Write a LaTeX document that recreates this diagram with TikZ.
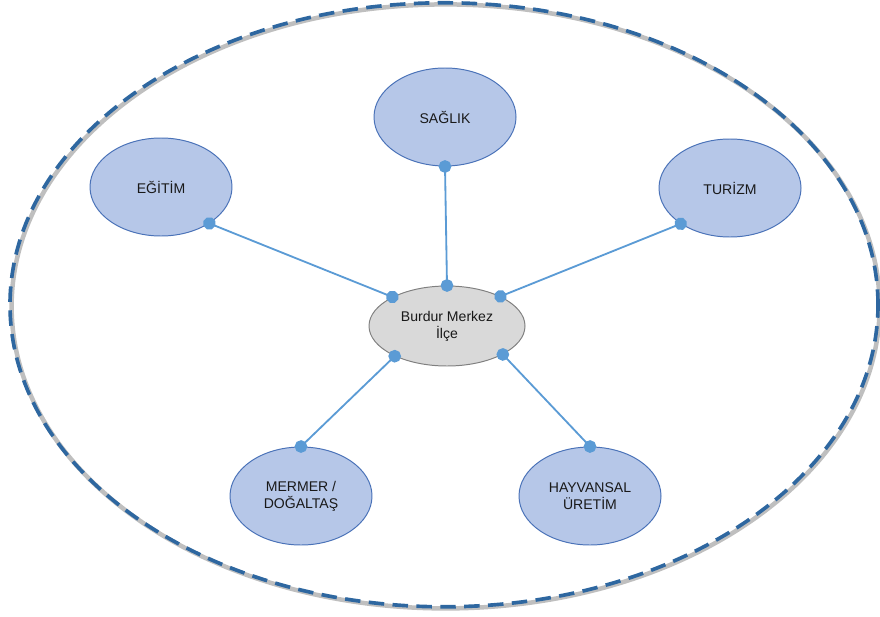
\documentclass[tikz,border=0pt]{standalone}
\usepackage{fontspec}
\setmainfont{Liberation Sans}
\usepackage{xcolor}
\usetikzlibrary{arrows.meta,shapes.geometric}
\definecolor{konudolgu}{HTML}{B6C7E8}
\definecolor{konukenar}{HTML}{4A72B8}
\definecolor{baglanti}{HTML}{5B9BD5}
\definecolor{cerceve}{HTML}{2E67A0}

\begin{document}
\begin{tikzpicture}[
  konu/.style={ellipse,draw=konukenar,fill=konudolgu,line width=0.7pt,minimum width=3.55cm,minimum height=2.45cm,inner sep=0pt,align=center,text=black!90},
  merkez/.style={konu,draw=gray,fill=black!15,minimum width=3.9cm,minimum height=2.0cm},
  bag/.style={baglanti,line width=1.3pt,{Circle[length=9pt]}-{Circle[length=9pt]},shorten <=-4.5pt,shorten >=-4.5pt}]
\useasboundingbox (0,0) rectangle (22,15.4);
\draw[black!25,line width=3.2pt](11.14,7.74) ellipse [x radius=10.85, y radius=7.55];
\draw[cerceve,line width=2.6pt,dash pattern=on 11pt off 6pt](11.1,7.78) ellipse [x radius=10.85, y radius=7.55];

\node[merkez] (ilce) at (11.175,7.25) {Burdur Merkez\\İlçe};
\node[konu] (saglik) at (11.125,12.475) {SAĞLIK};
\node[konu] (egitim) at (4.025,10.725) {EĞİTİM};
\node[konu] (turizm) at (18.25,10.7) {TURİZM};
\node[konu] (mermer) at (7.525,3.0) {MERMER /\\DOĞALTAŞ};
\node[konu] (hayvan) at (14.75,3.0) {HAYVANSAL\\ÜRETİM};

\draw[bag](saglik.270)--(ilce.90);
\draw[bag](egitim.-37)--(ilce.152);
\draw[bag](turizm.216)--(ilce.29);
\draw[bag](mermer.90)--(ilce.210);
\draw[bag](hayvan.90)--(ilce.-27);
\end{tikzpicture}
\end{document}
